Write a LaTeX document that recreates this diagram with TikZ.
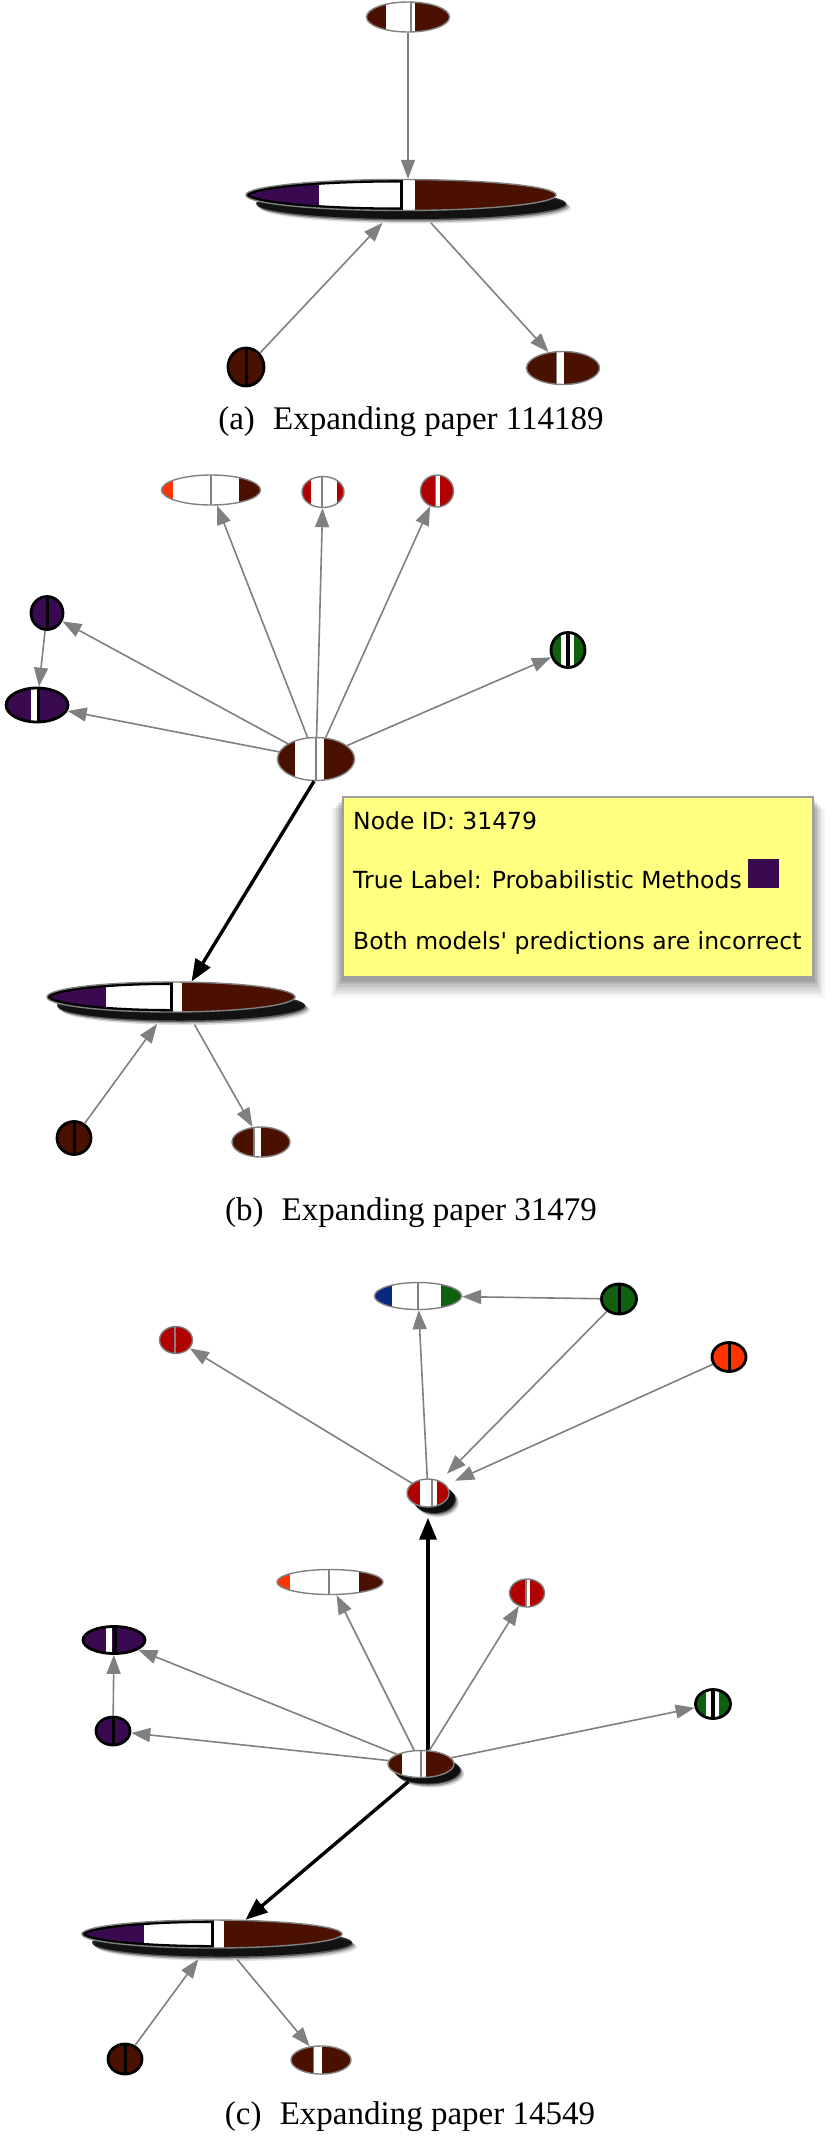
\documentclass[tikz,border=0pt]{standalone}
\usepackage{fontspec}
\setmainfont{Liberation Serif}
\newfontfamily\tipfamily{DejaVu Sans}[Ligatures=TeXOff]
\usetikzlibrary{arrows.meta,positioning,shapes.geometric,calc,shadows}

\definecolor{brownc}{RGB}{74,16,0}
\definecolor{purplec}{RGB}{58,10,80}
\definecolor{redc}{RGB}{176,0,0}
\definecolor{orangec}{RGB}{255,51,0}
\definecolor{greenc}{RGB}{16,96,16}
\definecolor{bluec}{RGB}{10,40,128}
\definecolor{edgegray}{RGB}{128,128,128}
\definecolor{tipyellow}{RGB}{255,255,128}
\definecolor{tipborder}{RGB}{160,160,160}

\newcommand{\capfont}{\fontsize{33}{40}\selectfont}
\newcommand{\tipfont}{\tipfamily\fontsize{23.5}{28}\selectfont}
% coloured band / divider inside a glyph (fractions of its width)
\newcommand{\seg}[3]{\fill[#1] ($(path picture bounding box.south west)!#2!(path picture bounding box.south east)$) rectangle ($(path picture bounding box.north west)!#3!(path picture bounding box.north east)$);}
\newcommand{\divl}[3]{\draw[#1,line width=#3] ($(path picture bounding box.south west)!#2!(path picture bounding box.south east)$) -- ($(path picture bounding box.north west)!#2!(path picture bounding box.north east)$);}

\tikzset{
  sz/.style 2 args={minimum width=#1pt,minimum height=#2pt},
  glyph/.style={ellipse,inner sep=0pt,draw=edgegray,line width=1.4pt},
  darkglyph/.style={ellipse,inner sep=0pt,draw=black,line width=2.8pt},
  bigglyph/.style={ellipse,inner sep=0pt,fill=brownc,draw=edgegray,line width=1.4pt,
    path picture={\seg{purplec}{0}{.237}\seg{white}{.237}{.545}
      \begin{scope}
        \clip (path picture bounding box.north west) rectangle (path picture bounding box.south);
        \draw[black,line width=6pt] let \p1=($(path picture bounding box.north east)-(path picture bounding box.center)$)
          in (path picture bounding box.center) ellipse [x radius=\x1,y radius=\y1];
      \end{scope}
      \divl{black}{.5}{3pt}}},
  bigshadow/.style={
    drop shadow={shadow xshift=15pt,shadow yshift=-13pt,opacity=.12,fill=black},
    drop shadow={shadow xshift=13pt,shadow yshift=-11.5pt,opacity=.25,fill=black},
    drop shadow={shadow xshift=11pt,shadow yshift=-10pt,opacity=.45,fill=black},
    drop shadow={shadow xshift=10pt,shadow yshift=-8.5pt,opacity=.8,fill=black}},
  smallshadow/.style={
    drop shadow={shadow xshift=10pt,shadow yshift=-10pt,opacity=.15,fill=black},
    drop shadow={shadow xshift=8.5pt,shadow yshift=-8.5pt,opacity=.3,fill=black},
    drop shadow={shadow xshift=7pt,shadow yshift=-7pt,opacity=.5,fill=black},
    drop shadow={shadow xshift=6pt,shadow yshift=-6pt,opacity=.8,fill=black}},
  edge/.style={draw=edgegray,line width=1.6pt,-{Triangle[length=19pt,width=14pt]}},
  mainedge/.style={draw=black,line width=3.4pt,-{Triangle[length=22pt,width=17pt]}},
  caption/.style={font=\capfont,inner sep=0pt},
  tipshadow/.style={
    drop shadow={shadow xshift=0pt,shadow yshift=-16pt,shadow scale=1.05,opacity=.03,fill=black},
    drop shadow={shadow xshift=0pt,shadow yshift=-14pt,shadow scale=1.043,opacity=.04,fill=black},
    drop shadow={shadow xshift=0pt,shadow yshift=-12pt,shadow scale=1.036,opacity=.05,fill=black},
    drop shadow={shadow xshift=0pt,shadow yshift=-10pt,shadow scale=1.029,opacity=.06,fill=black},
    drop shadow={shadow xshift=0pt,shadow yshift=-8pt,shadow scale=1.022,opacity=.07,fill=black},
    drop shadow={shadow xshift=0pt,shadow yshift=-6pt,shadow scale=1.015,opacity=.08,fill=black},
    drop shadow={shadow xshift=0pt,shadow yshift=-4pt,shadow scale=1.008,opacity=.1,fill=black}},
  tipbox/.style={rectangle,inner sep=0pt,fill=tipyellow,draw=tipborder,line width=1.5pt,tipshadow},
  tiptext/.style={anchor=base west,font=\tipfont,inner sep=0pt},
}

\begin{document}
\begin{tikzpicture}[x=1pt,y=-1pt]
\useasboundingbox (0,0) rectangle (832,2140);

% (a) expanding paper 114189
\node[glyph,sz={83}{30},fill=brownc,path picture={\seg{white}{.23}{.58}\divl{edgegray}{.54}{2pt}}] (a1) at (408,17) {};
\node[bigglyph,bigshadow,sz={310}{31}] (a2) at (401,195) {};
\node[darkglyph,sz={36}{38},fill=brownc,path picture={\divl{black}{.5}{3pt}}] (a3) at (246,367) {};
\node[glyph,sz={73}{33},fill=brownc,path picture={\seg{white}{.41}{.51}\divl{edgegray}{.41}{1.5pt}}] (a4) at (563,368) {};
\draw[edge] (a1.south) -- (a1.south |- a2.north);
\draw[edge,shorten >=16pt] (a3.45) -- (a2.245);
\draw[edge,shorten <=16pt] (a2.320) -- (a4);
\node[caption] (capa) at (411,422) {(a)\hspace{0.3em} Expanding paper 114189};

% (b) expanding paper 31479
\node[glyph,sz={99}{30},fill=white,path picture={\seg{orangec}{0}{.12}\seg{brownc}{.78}{1}\divl{edgegray}{.5}{1.6pt}}] (b1) at (211,490) {};
\node[glyph,sz={42}{31},fill=white,path picture={\seg{redc}{0}{.22}\seg{redc}{.84}{1}\divl{edgegray}{.48}{1.6pt}}] (b2) at (323,492) {};
\node[glyph,sz={33}{32},fill=redc,path picture={\seg{white}{.48}{.58}\divl{edgegray}{.46}{1.6pt}}] (b3) at (437,491) {};
\node[darkglyph,sz={32}{33},fill=purplec,path picture={\divl{black}{.5}{3pt}}] (b4) at (47,613) {};
\node[darkglyph,sz={62}{34},fill=purplec,path picture={\seg{white}{.41}{.5}\divl{black}{.53}{3pt}}] (b5) at (37,705) {};
\node[darkglyph,sz={34}{35},fill=greenc,path picture={\seg{white}{.3}{.68}\divl{black}{.5}{4pt}}] (b6) at (568,650) {};
\node[glyph,sz={77}{43},fill=brownc,path picture={\seg{white}{.23}{.6}\divl{edgegray}{.5}{1.6pt}}] (b7) at (316,759) {};
\node[bigglyph,bigshadow,sz={248}{30}] (b8) at (171,997) {};
\node[darkglyph,sz={34}{33},fill=brownc,path picture={\divl{black}{.5}{3pt}}] (b9) at (74,1138) {};
\node[glyph,sz={58}{30},fill=brownc,path picture={\seg{white}{.38}{.5}\divl{edgegray}{.38}{1.4pt}}] (b10) at (261,1142) {};
\foreach \t in {b1,b2,b3,b4,b5,b6}
  \draw[edge] (b7) -- (\t);
\draw[edge] (b4) -- (b5);
\draw[mainedge] (b7.265) -- (b8.37);
\draw[edge,shorten >=14pt] (b9) -- (b8.250);
\draw[edge,shorten <=14pt] (b8.317) -- (b10);

% tooltip of the expanded node
\node[tipbox,sz={470}{180}] (tip) at (578,887) {};
\node[tiptext] (tipid) at (353,829) {Node ID: 31479};
\node[tiptext] (tiplabel) at (353,888) {True Label: Probabilistic Methods};
\node[fill=purplec,sz={31}{29},inner sep=0pt,anchor=south west] (swatch) at ($(tiplabel.base east)+(6,0)$) {};
\node[tiptext] (tipnote) at (353,949) {Both models' predictions are incorrect};
\node[caption] (capb) at (411,1213) {(b)\hspace{0.3em} Expanding paper 31479};

% (c) expanding paper 14549
\node[glyph,sz={87}{27},fill=white,path picture={\seg{bluec}{0}{.2}\seg{greenc}{.76}{1}\divl{edgegray}{.5}{1.6pt}}] (c1) at (418,1296) {};
\node[darkglyph,sz={35}{30},fill=greenc,path picture={\divl{black}{.5}{3pt}}] (c2) at (619,1299) {};
\node[glyph,sz={33}{27},fill=redc,path picture={\divl{edgegray}{.47}{1.6pt}}] (c3) at (176,1340) {};
\node[darkglyph,sz={34}{29},fill=orangec,path picture={\divl{black}{.5}{3pt}}] (c4) at (729,1357) {};
\node[glyph,smallshadow,sz={42}{28},fill=redc,path picture={\seg{white}{.3}{.72}\divl{edgegray}{.6}{1.5pt}}] (c5) at (428,1493) {};
\node[glyph,sz={106}{25},fill=white,path picture={\seg{orangec}{0}{.12}\seg{brownc}{.77}{1}\divl{edgegray}{.49}{1.6pt}}] (c7) at (330,1582) {};
\node[glyph,sz={35}{28},fill=redc,path picture={\seg{white}{.49}{.59}\divl{edgegray}{.47}{1.5pt}}] (c8) at (527,1593) {};
\node[darkglyph,sz={62}{27},fill=purplec,path picture={\seg{white}{.37}{.47}\divl{black}{.51}{4pt}}] (c9) at (114,1640) {};
\node[darkglyph,sz={34}{28},fill=purplec,path picture={\divl{black}{.5}{3pt}}] (c10) at (113,1731) {};
\node[darkglyph,sz={35}{29},fill=greenc,path picture={\seg{white}{.3}{.68}\divl{black}{.5}{3.5pt}}] (c11) at (713,1704) {};
\node[glyph,smallshadow,sz={66}{27},fill=brownc,path picture={\seg{white}{.21}{.57}\divl{edgegray}{.5}{1.6pt}}] (c6) at (421,1764) {};
\node[bigglyph,bigshadow,sz={260}{28}] (c12) at (212,1934) {};
\node[darkglyph,sz={34}{30},fill=brownc,path picture={\divl{black}{.5}{3pt}}] (c13) at (125,2059) {};
\node[glyph,sz={60}{28},fill=brownc,path picture={\seg{white}{.37}{.52}\divl{edgegray}{.37}{1.4pt}}] (c14) at (321,2060) {};
\foreach \t in {c1,c3}
  \draw[edge] (c5) -- (\t);
\draw[edge] (c2) -- (c1);
\draw[edge,shorten >=10pt] (c2) -- (c5);
\draw[edge,shorten >=10pt] (c4) -- (c5);
\draw[mainedge,shorten >=10pt] (c5.south |- c6.north) -- (c5.south);
\foreach \t in {c7,c8,c9,c10,c11}
  \draw[edge] (c6) -- (\t);
\draw[edge] (c10) -- (c9);
\draw[mainedge,shorten <=6pt] (c6.240) -- (c12.23);
\draw[edge,shorten >=13pt] (c13) -- (c12.248);
\draw[edge,shorten <=14pt] (c12.318) -- (c14);
\node[caption] (capc) at (410,2117) {(c)\hspace{0.3em} Expanding paper 14549};
\end{tikzpicture}
\end{document}
